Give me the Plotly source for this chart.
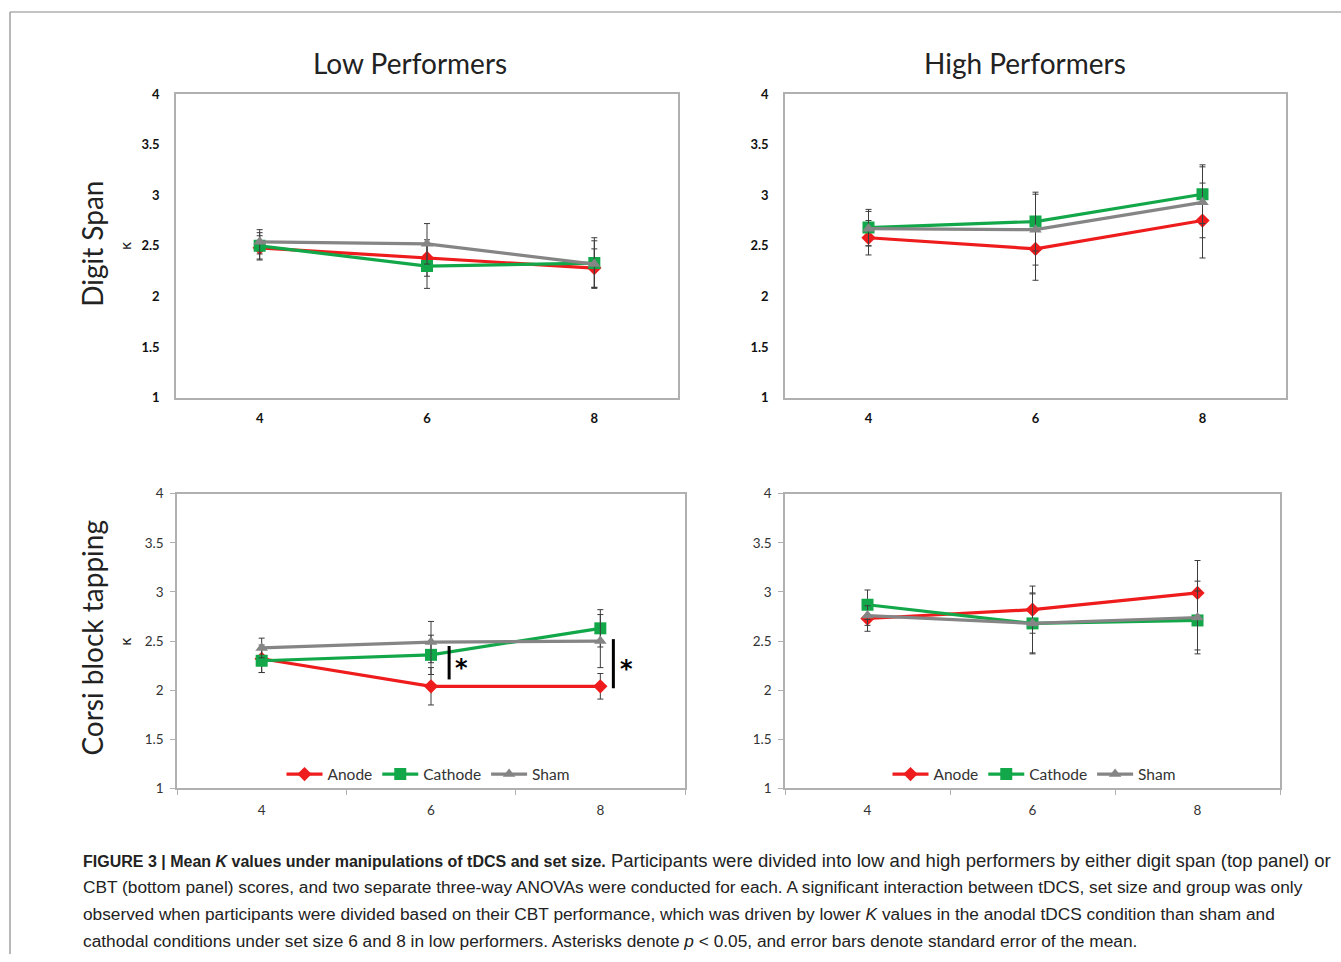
import plotly.graph_objects as go

W, H = 1341, 962
# measured screenshot mapping: shown_y = SY * page_y + OY (x is 1:1)
SY, OY = 0.984, 7.0

set_sizes = ["4", "6", "8"]
conditions = ["Anode", "Cathode", "Sham"]

# Digit span, low performers
ds_low_anode = [2.48, 2.38, 2.28]
ds_low_cathode = [2.50, 2.30, 2.33]
ds_low_sham = [2.54, 2.52, 2.32]
ds_low_anode_err = [0.12, 0.18, 0.19]
ds_low_cathode_err = [0.13, 0.22, 0.25]
ds_low_sham_err = [0.12, 0.20, 0.23]

# Digit span, high performers
ds_high_anode = [2.58, 2.47, 2.75]
ds_high_cathode = [2.68, 2.74, 3.01]
ds_high_sham = [2.67, 2.66, 2.93]
ds_high_anode_err = [0.17, 0.31, 0.37]
ds_high_cathode_err = [0.18, 0.29, 0.29]
ds_high_sham_err = [0.17, 0.35, 0.35]

# Corsi block tapping, low performers
cbt_low_anode = [2.32, 2.04, 2.04]
cbt_low_cathode = [2.30, 2.36, 2.63]
cbt_low_sham = [2.43, 2.49, 2.50]
cbt_low_anode_err = [0.14, 0.19, 0.13]
cbt_low_cathode_err = [0.12, 0.20, 0.19]
cbt_low_sham_err = [0.10, 0.21, 0.27]

# Corsi block tapping, high performers
cbt_high_anode = [2.73, 2.82, 2.99]
cbt_high_cathode = [2.87, 2.68, 2.71]
cbt_high_sham = [2.76, 2.68, 2.74]
cbt_high_anode_err = [0.13, 0.24, 0.33]
cbt_high_cathode_err = [0.15, 0.30, 0.30]
cbt_high_sham_err = [0.10, 0.31, 0.37]

y_ticks = [1, 1.5, 2, 2.5, 3, 3.5, 4]
y_tick_labels = ["1", "1.5", "2", "2.5", "3", "3.5", "4"]

col_titles = ["Low Performers", "High Performers"]
row_titles = ["Digit Span", "Corsi block tapping"]
y_label = "K"

caption_lines = [
    "<span style='font-size:16px'><b>FIGURE 3 | Mean <i>K</i> values under manipulations of tDCS and set size.</b></span> Participants were divided into low and high performers by either digit span (top panel) or",
    "CBT (bottom panel) scores, and two separate three-way ANOVAs were conducted for each. A significant interaction between tDCS, set size and group was only",
    "observed when participants were divided based on their CBT performance, which was driven by lower <i>K</i> values in the anodal tDCS condition than sham and",
    "cathodal conditions under set size 6 and 8 in low performers. Asterisks denote <i>p</i> &lt; 0.05, and error bars denote standard error of the mean.",
]
caption_sizes = [18.5, 17.3, 17.3, 17.3]

colors = {"Anode": "#ee1c1c", "Cathode": "#12a84a", "Sham": "#858585"}
symbols = {"Anode": "diamond", "Cathode": "square", "Sham": "triangle-up"}
msizes = {"Anode": 11, "Cathode": 12, "Sham": 11}

panels = [
    ("x", "y", [ds_low_anode, ds_low_cathode, ds_low_sham],
     [ds_low_anode_err, ds_low_cathode_err, ds_low_sham_err], None),
    ("x2", "y2", [ds_high_anode, ds_high_cathode, ds_high_sham],
     [ds_high_anode_err, ds_high_cathode_err, ds_high_sham_err], None),
    ("x3", "y3", [cbt_low_anode, cbt_low_cathode, cbt_low_sham],
     [cbt_low_anode_err, cbt_low_cathode_err, cbt_low_sham_err], "legend"),
    ("x4", "y4", [cbt_high_anode, cbt_high_cathode, cbt_high_sham],
     [cbt_high_anode_err, cbt_high_cathode_err, cbt_high_sham_err], "legend2"),
]

fig = go.Figure()
for xa, ya, vals, errs, leg in panels:
    for cond, v, e in zip(conditions, vals, errs):
        fig.add_trace(go.Scatter(
            x=set_sizes, y=v, xaxis=xa, yaxis=ya, name=cond,
            mode="lines+markers",
            line=dict(color=colors[cond], width=3.2),
            marker=dict(symbol=symbols[cond], size=msizes[cond], color=colors[cond]),
            error_y=dict(type="data", array=e, visible=True, color="#3c3c3c",
                         thickness=1, width=3),
            showlegend=leg is not None,
            legend=leg if leg else "legend",
        ))

def px_x(p):
    return p / W

def px_y(p):
    page_y = (p - OY) / SY
    return 1 - page_y / H

domains = {
    "x": ([px_x(176), px_x(678)], [px_y(397), px_y(93)]),
    "x2": ([px_x(785), px_x(1286)], [px_y(397), px_y(93)]),
    "x3": ([px_x(177), px_x(685)], [px_y(788), px_y(493)]),
    "x4": ([px_x(785), px_x(1280)], [px_y(788), px_y(493)]),
}

layout = dict(
    width=W, height=H, margin=dict(l=0, r=0, t=0, b=0),
    paper_bgcolor="white", plot_bgcolor="white",
    font=dict(family="Lato, sans-serif", color="#222"),
)
for i, key in enumerate(["x", "x2", "x3", "x4"]):
    n = "" if i == 0 else str(i + 1)
    xd, yd = domains[key]
    bottom = i >= 2
    tf = dict(size=13.5 if bottom else 13, family="Lato, sans-serif",
              color="#333" if bottom else "#111",
              weight="normal" if bottom else "bold")
    layout["xaxis" + n] = dict(
        domain=xd, anchor="y" + n, type="category", range=[-0.5, 2.5],
        categoryorder="array", categoryarray=set_sizes,
        showline=True, linecolor="#b0b0b0", linewidth=1.5, mirror=True,
        showgrid=False, zeroline=False,
        ticks="outside" if bottom else "", ticklen=5, tickcolor="#b0b0b0",
        tickson="boundaries" if bottom else "labels",
        tickfont=tf, ticklabelstandoff=9 if bottom else 8,
        fixedrange=True,
    )
    layout["yaxis" + n] = dict(
        domain=yd, anchor="x" + n, range=[1, 4],
        tickvals=y_ticks, ticktext=y_tick_labels,
        showline=True, linecolor="#b0b0b0", linewidth=1.5, mirror=True,
        showgrid=False, zeroline=False,
        ticks="outside" if bottom else "", ticklen=5, tickcolor="#b0b0b0",
        tickfont=tf, ticklabelstandoff=4 if bottom else 12,
        fixedrange=True,
    )

legend_common = dict(
    orientation="h", xanchor="center", yanchor="middle",
    font=dict(size=15.5, family="Lato, sans-serif", color="#333"),
    bgcolor="rgba(0,0,0,0)", itemwidth=36, tracegroupgap=0,
)
layout["legend"] = dict(x=px_x(428), y=px_y(774), **legend_common)
layout["legend2"] = dict(x=px_x(1034), y=px_y(774), **legend_common)

fig.update_layout(**layout)

def ann(text, x, y, size, angle=0, **kw):
    d = dict(text=text, x=x, y=y, xref="paper", yref="paper", showarrow=False,
             xanchor="center", yanchor="middle", textangle=angle,
             font=dict(size=size, family="Lato, sans-serif", color="#222"))
    d.update(kw)
    return d

annotations = [
    ann(col_titles[0], px_x(410), px_y(62), 28),
    ann(col_titles[1], px_x(1025), px_y(62), 28),
    ann(row_titles[0], px_x(92), px_y(243), 28, -90),
    ann(row_titles[1], px_x(92), px_y(637), 28, -90),
]
for yy in [245, 641]:
    annotations.append(ann("<b>" + y_label + "</b>", px_x(127), px_y(yy), 11, -90))

# significance markers (bottom-left panel)
sig = [(1.107, 2.11, 2.45), (2.077, 2.02, 2.52)]
shapes = []
for xs, y0, y1 in sig:
    shapes.append(dict(type="line", xref="x3", yref="y3", x0=xs, x1=xs, y0=y0, y1=y1,
                       line=dict(color="black", width=3)))
    annotations.append(dict(text="<b>*</b>", x=xs + 0.025, y=(y0 + y1) / 2 - 0.05, xref="x3", yref="y3",
                            showarrow=False, xanchor="left", yanchor="middle",
                            font=dict(size=24, family="DejaVu Sans, sans-serif", color="black")))
# caption
for i, line in enumerate(caption_lines):
    annotations.append(dict(text=line, x=px_x(81), y=px_y(860 + 27 * i), xref="paper", yref="paper",
                            xanchor="left", yanchor="middle", showarrow=False, align="left",
                            font=dict(size=caption_sizes[i], family="Liberation Sans, Arial, sans-serif",
                                      color="#222")))
# frame
shapes.append(dict(type="line", xref="paper", yref="paper", x0=px_x(10), x1=1.0,
                   y0=px_y(11), y1=px_y(11), line=dict(color="#888", width=1.2)))
shapes.append(dict(type="line", xref="paper", yref="paper", x0=px_x(10), x1=px_x(10),
                   y0=px_y(11), y1=0, line=dict(color="#888", width=1.2)))

fig.update_layout(annotations=annotations, shapes=shapes)
fig.write_html("out.html", config={"displayModeBar": False},
               post_script="document.body.style.margin='0px';document.body.style.overflow='hidden';")
